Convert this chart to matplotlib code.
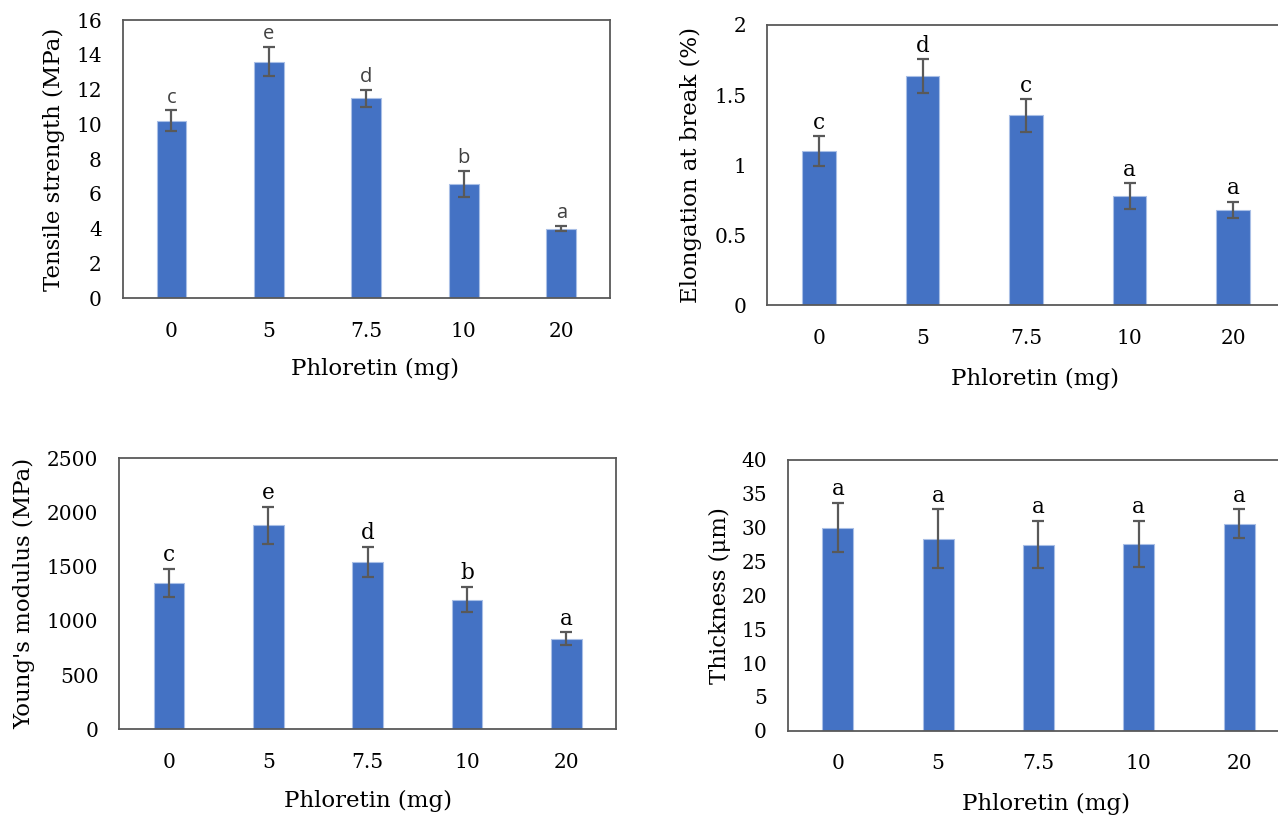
import matplotlib
matplotlib.use("Agg")
import matplotlib.pyplot as plt
import numpy as np

categories = ["0", "5", "7.5", "10", "20"]

tensile = [10.2, 13.6, 11.5, 6.55, 4.0]
tensile_err = [0.6, 0.85, 0.5, 0.75, 0.15]
tensile_letters = ["c", "e", "d", "b", "a"]

elong = [1.10, 1.635, 1.355, 0.78, 0.68]
elong_err = [0.105, 0.12, 0.115, 0.09, 0.06]
elong_letters = ["c", "d", "c", "a", "a"]

young = [1350, 1880, 1540, 1195, 833]
young_err = [130, 170, 140, 115, 60]
young_letters = ["c", "e", "d", "b", "a"]

thick = [30.0, 28.4, 27.5, 27.6, 30.6]
thick_err = [3.65, 4.3, 3.5, 3.4, 2.1]
thick_letters = ["a", "a", "a", "a", "a"]

BAR = "#4472C4"
EDGE = "#A9BFE6"
GRAY = "#595959"
SERIF = ["DejaVu Serif"]

W, H = 1278, 817
fig = plt.figure(figsize=(W / 100, H / 100), dpi=100)

def px_axes(left, right, top, bottom):
    return fig.add_axes([left / W, 1 - bottom / H, (right - left) / W, (bottom - top) / H])

panels = [
    dict(box=(122.7, 610, 20, 298), vals=tensile, errs=tensile_err, letters=tensile_letters,
         ylim=(0, 16), ticks=np.arange(0, 17, 2), ylabel="Tensile strength (MPa)",
         bw=0.305, ylc=-0.118, xlc=(0.517, -0.215), sans=True),
    dict(box=(767.3, 1284.8, 25, 305.3), vals=elong, errs=elong_err, letters=elong_letters,
         ylim=(0, 2), ticks=[0, 0.5, 1, 1.5, 2], ylabel="Elongation at break (%)",
         bw=0.32, ylc=-0.126, xlc=(0.517, -0.224), sans=False),
    dict(box=(119.3, 616, 458, 729.3), vals=young, errs=young_err, letters=young_letters,
         ylim=(0, 2500), ticks=np.arange(0, 2501, 500), ylabel="Young's modulus (MPa)",
         bw=0.31, ylc=-0.170, xlc=(0.5, -0.224), sans=False),
    dict(box=(787.7, 1289.2, 460, 730.7), vals=thick, errs=thick_err, letters=thick_letters,
         ylim=(0, 40), ticks=np.arange(0, 41, 5), ylabel="Thickness (μm)",
         bw=0.31, ylc=-0.113, xlc=(0.516, -0.230), sans=False),
]

for p in panels:
    ax = px_axes(*p["box"])
    x = np.arange(len(categories))
    ax.bar(x, p["vals"], width=p["bw"], color=BAR, edgecolor=EDGE, linewidth=0.8, zorder=2)
    ax.errorbar(x, p["vals"], yerr=p["errs"], fmt="none", ecolor=GRAY, elinewidth=1.6,
                capsize=4, capthick=1.6, zorder=3)
    ax.set_xlim(-0.5, len(categories) - 0.5)
    ax.set_ylim(*p["ylim"])
    ax.set_yticks(p["ticks"])
    ax.set_yticklabels([f"{t:g}" for t in p["ticks"]], fontfamily=SERIF, fontsize=14.5)
    ax.set_xticks(x)
    ax.set_xticklabels(categories, fontfamily=SERIF, fontsize=14.5)
    ax.tick_params(axis="both", length=0)
    ax.tick_params(axis="y", pad=15)
    ax.tick_params(axis="x", pad=17)
    for s in ax.spines.values():
        s.set_color(GRAY)
        s.set_linewidth(1.3)
    ax.set_ylabel(p["ylabel"], fontfamily=SERIF, fontsize=16.5)
    ax.yaxis.set_label_coords(p["ylc"], 0.5)
    ax.set_xlabel("Phloretin (mg)", fontfamily=SERIF, fontsize=16.5)
    ax.xaxis.set_label_coords(*p["xlc"])
    for xi, v, e, lt in zip(x, p["vals"], p["errs"], p["letters"]):
        if p["sans"]:
            ax.annotate(lt, (xi, v + e), xytext=(0, 2), textcoords="offset points",
                        ha="center", va="bottom", fontsize=14.5, color="#404040",
                        fontfamily=["Open Sans", "DejaVu Sans"])
        else:
            ax.annotate(lt, (xi, v + e), xytext=(0, 2), textcoords="offset points",
                        ha="center", va="bottom", fontsize=15.5, color="black",
                        fontfamily=SERIF)

fig.savefig("out.png", dpi=100)
